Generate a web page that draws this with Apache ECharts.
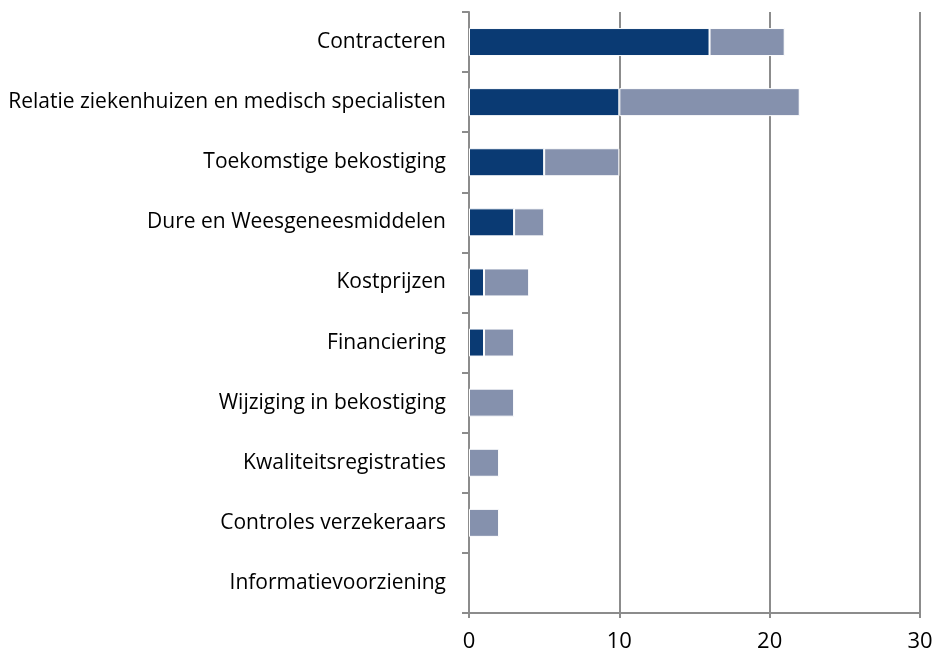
<!DOCTYPE html>
<html>
<head>
<meta charset="utf-8">
<script src="https://cdn.jsdelivr.net/npm/echarts@6/dist/echarts.min.js"></script>
<style>
  html, body { margin: 0; padding: 0; background: #fff; }
  #chart { width: 938px; height: 659px; }
</style>
</head>
<body>
<div id="chart"></div>
<script>
  // categories, top to bottom as in the picture
  var categories = [
    'Contracteren',
    'Relatie ziekenhuizen en medisch specialisten',
    'Toekomstige bekostiging',
    'Dure en Weesgeneesmiddelen',
    'Kostprijzen',
    'Financiering',
    'Wijziging in bekostiging',
    'Kwaliteitsregistraties',
    'Controles verzekeraars',
    'Informatievoorziening'
  ]
  var darkValues = [16, 10, 5, 3, 1, 1, 0, 0, 0, 0]
  var lightValues = [5, 12, 5, 2, 3, 2, 3, 2, 2, 0]
  var xTicks = [0, 10, 20, 30]

  // zero bars would leave a white border line on the axis, so leave them out
  function noZero(arr) {
    return arr.map(function (v) { return v === 0 ? '-' : v })
  }

  let mychart = echarts.init(document.getElementById('chart'))
  mychart.setOption({
    animation: false,
    grid: {
      left: 469,
      right: 18,
      top: 12,
      bottom: 46
    },
    xAxis: {
      type: 'value',
      min: xTicks[0],
      max: xTicks[xTicks.length - 1],
      interval: 10,
      axisLine: { show: true, lineStyle: { color: '#8c8c8c', width: 2 } },
      axisTick: { show: true, length: 5, lineStyle: { color: '#8c8c8c', width: 2 } },
      splitLine: { show: true, lineStyle: { color: '#8c8c8c', width: 2 } },
      axisLabel: {
        color: '#000',
        fontSize: 22,
        fontFamily: 'Open Sans',
        margin: 18
      }
    },
    yAxis: {
      type: 'category',
      inverse: true,
      data: categories,
      axisLine: { show: true, lineStyle: { color: '#8c8c8c', width: 2 } },
      axisTick: { show: true, length: 7, lineStyle: { color: '#8c8c8c', width: 2 } },
      axisLabel: {
        color: '#000',
        fontSize: 21,
        fontFamily: 'Open Sans',
        margin: 23
      }
    },
    series: [
      {
        name: 'dark',
        type: 'bar',
        stack: 'total',
        barWidth: 28,
        data: noZero(darkValues),
        itemStyle: { color: '#0a3a73', borderColor: '#fff', borderWidth: 1 }
      },
      {
        name: 'light',
        type: 'bar',
        stack: 'total',
        barWidth: 28,
        data: noZero(lightValues),
        itemStyle: { color: '#8591ad', borderColor: '#fff', borderWidth: 1 }
      }
    ]
  })
</script>
</body>
</html>
